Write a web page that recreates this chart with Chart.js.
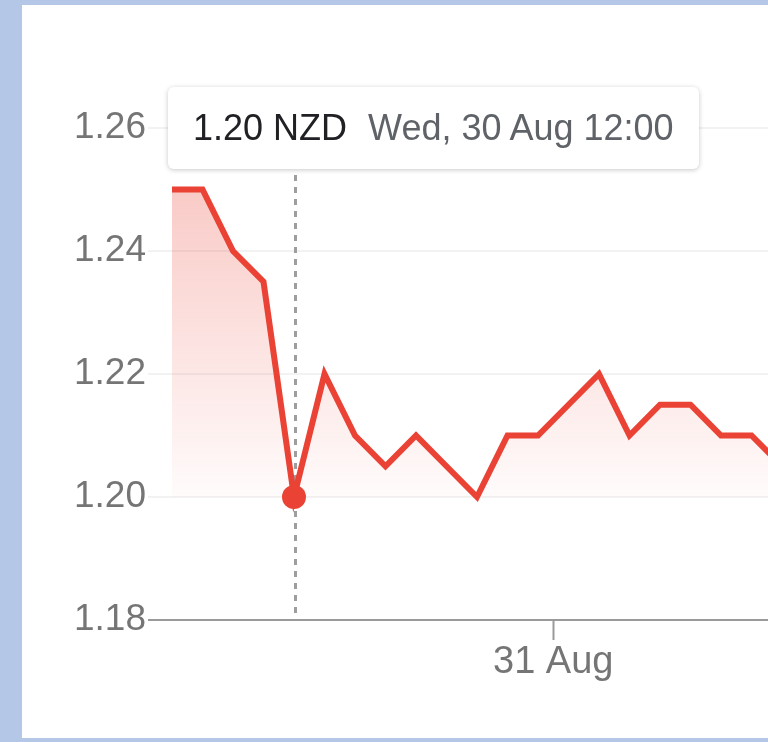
<!DOCTYPE html>
<html>
<head>
<meta charset="utf-8">
<script src="https://cdn.jsdelivr.net/npm/chart.js@4.4.1/dist/chart.umd.min.js"></script>
<style>
  html, body { margin: 0; padding: 0; }
  body {
    width: 768px; height: 742px; overflow: hidden;
    background: #b4c7e7; position: relative;
    font-family: "Liberation Sans", Arial, sans-serif;
  }
  #card {
    position: absolute; left: 22px; top: 5px;
    width: 1000px; height: 733px; background: #ffffff;
  }
  #wrap { position: absolute; left: 0; top: 0; width: 763px; height: 733px; }
  #tip {
    position: absolute; left: 146px; top: 82px;
    height: 82px; box-sizing: border-box;
    padding: 0 25px; display: flex; align-items: center;
    background: #ffffff; border-radius: 6px;
    box-shadow: 0 1px 5px rgba(0,0,0,0.22);
    font-size: 36px; white-space: nowrap; opacity: 0;
    pointer-events: none;
  }
  #tip .val { color: #202124; }
  #tip .when { color: #5f6368; margin-left: 21px; }
</style>
</head>
<body>
<div id="card">
  <div id="wrap"><canvas id="chart"></canvas></div>
  <div id="tip"></div>
</div>
<script>
// NZD rate, one reading per sample step
const rates = [1.25, 1.25, 1.24, 1.235, 1.20, 1.22, 1.21, 1.205, 1.21, 1.205,
               1.20, 1.21, 1.21, 1.215, 1.22, 1.21, 1.215, 1.215, 1.21, 1.21, 1.205];
const currency = 'NZD';

// y axis ticks
const yTicks = [1.18, 1.20, 1.22, 1.24, 1.26];

// day boundary marks on the time axis (in sample steps)
const dayTickSteps = [12.5];
const dayTickLabels = ['31 Aug'];

// highlighted reading
const focusIndex = 4;
const focusTime = 'Wed, 30 Aug 12:00';

const red = 'rgb(234,67,53)';

const points = rates.map((v, i) => ({ x: i, y: v }));

const crosshair = {
  id: 'crosshair',
  beforeDatasetsDraw(chart) {
    const pt = chart.getDatasetMeta(0).data[focusIndex];
    if (!pt) return;
    const { ctx, chartArea } = chart;
    ctx.save();
    ctx.beginPath();
    ctx.setLineDash([6, 6]);
    ctx.lineWidth = 3;
    ctx.strokeStyle = '#9e9e9e';
    const x = Math.round(pt.x) + 1.5;
    ctx.moveTo(x, chartArea.top + 47);
    ctx.lineTo(x, chartArea.bottom - 4);
    ctx.stroke();
    ctx.restore();
  }
};

const tipEl = document.getElementById('tip');

const chart = new Chart(document.getElementById('chart'), {
  type: 'line',
  data: {
    datasets: [{
      data: points,
      borderColor: red,
      borderWidth: 6,
      tension: 0,
      fill: { value: 1.20 },
      backgroundColor: (c) => {
        const { chart } = c;
        const area = chart.chartArea;
        if (!area) return 'rgba(234,67,53,0.2)';
        const ys = chart.scales.y;
        const g = chart.ctx.createLinearGradient(0, ys.getPixelForValue(1.25), 0, ys.getPixelForValue(1.20));
        g.addColorStop(0, 'rgba(234,67,53,0.28)');
        g.addColorStop(1, 'rgba(234,67,53,0.02)');
        return g;
      },
      pointRadius: (c) => c.dataIndex === focusIndex ? 12 : 0,
      pointBackgroundColor: red,
      pointBorderWidth: 0,
      pointHoverRadius: (c) => c.dataIndex === focusIndex ? 12 : 0,
      pointHoverBorderWidth: 0
    }]
  },
  options: {
    responsive: true,
    maintainAspectRatio: false,
    animation: false,
    events: [],
    layout: { padding: { top: 123, right: 0, left: 0, bottom: 0 } },
    plugins: {
      legend: { display: false },
      tooltip: {
        enabled: false,
        external: ({ tooltip }) => {
          if (!tooltip || tooltip.opacity === 0 || !tooltip.dataPoints || !tooltip.dataPoints.length) {
            tipEl.style.opacity = 0;
            return;
          }
          const dp = tooltip.dataPoints[0];
          tipEl.innerHTML = '<span class="val">' + dp.parsed.y.toFixed(2) + ' ' + currency +
                            '</span><span class="when">' + focusTime + '</span>';
          tipEl.style.opacity = 1;
        }
      }
    },
    scales: {
      x: {
        type: 'linear',
        min: 0,
        max: rates.length - 1,
        afterFit: (s) => { s.height = 118; },
        afterBuildTicks: (s) => { s.ticks = dayTickSteps.map(v => ({ value: v })); },
        ticks: {
          autoSkip: false,
          maxRotation: 0,
          padding: 0,
          color: '#757575',
          font: { family: '"Liberation Sans", Arial, sans-serif', size: 38 },
          callback: (v) => {
            const k = dayTickSteps.findIndex(t => Math.abs(t - v) < 1e-6);
            return k >= 0 ? dayTickLabels[k] : '';
          }
        },
        grid: {
          drawOnChartArea: false,
          drawTicks: true,
          tickLength: 20,
          tickWidth: 2,
          tickColor: '#9a9a9a'
        },
        border: { display: true, color: '#9a9a9a', width: 2 }
      },
      y: {
        min: 1.18,
        max: 1.26,
        afterFit: (s) => { s.width = 150; },
        afterBuildTicks: (s) => { s.ticks = yTicks.map(v => ({ value: v })); },
        ticks: {
          padding: 2,
          color: '#757575',
          font: { family: '"Liberation Sans", Arial, sans-serif', size: 37 },
          callback: (v) => Number(v).toFixed(2)
        },
        grid: {
          tickLength: 24,
          lineWidth: 2,
          color: (c) => (c.tick && Math.abs(c.tick.value - 1.18) < 1e-6) ? '#9a9a9a' : '#f2f2f2'
        },
        border: { display: false }
      }
    }
  },
  plugins: [crosshair]
});

// show the highlighted reading in the tooltip
const focusEl = chart.getDatasetMeta(0).data[focusIndex];
chart.tooltip.setActiveElements([{ datasetIndex: 0, index: focusIndex }], { x: focusEl.x, y: focusEl.y });
chart.update('none');
</script>
</body>
</html>
